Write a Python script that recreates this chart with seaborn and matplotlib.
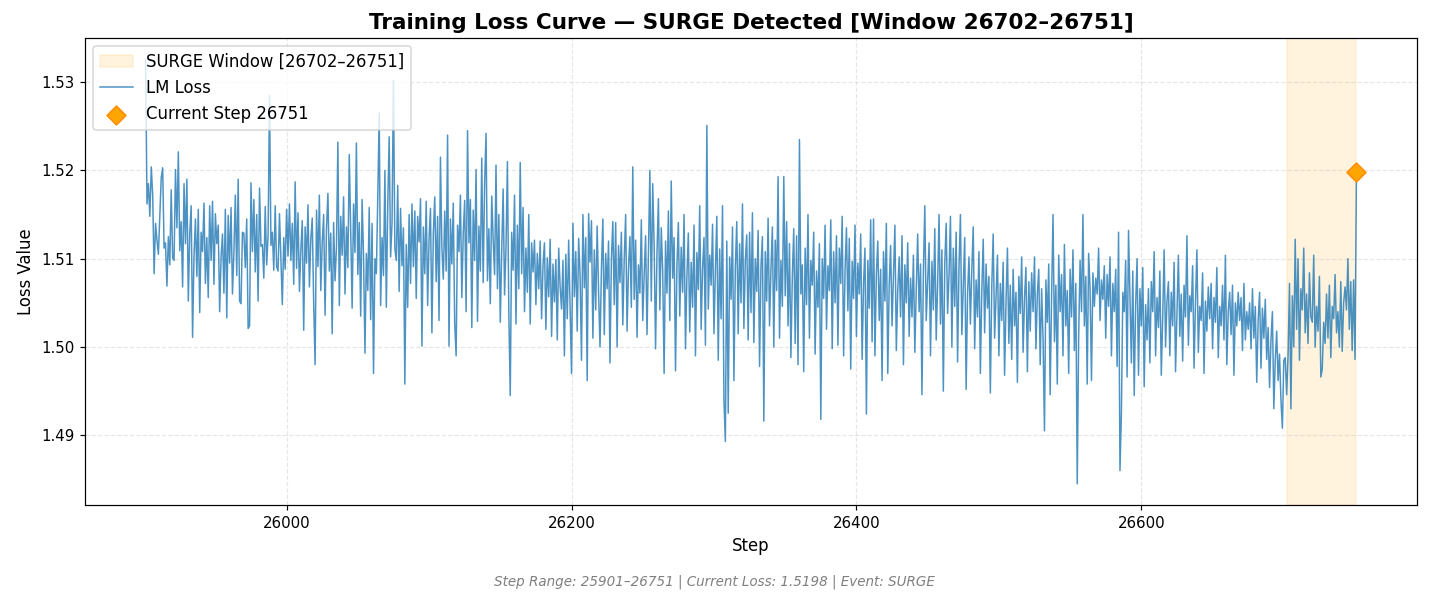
import numpy as np
import pandas as pd
import matplotlib
matplotlib.use("Agg")
import matplotlib.pyplot as plt
import seaborn as sns

# LM loss per step (last value is the current step)
loss = [
    1.5326, 1.5162, 1.5185, 1.5148, 1.5204, 1.5172, 1.5083, 1.5140, 1.5121, 1.5105, 1.5148, 1.5192, 1.5203, 1.5112, 1.5118, 1.5069, 1.5125, 1.5093, 1.5178, 1.5101, 1.5098, 1.5201, 1.5135, 1.5221, 1.5109,
    1.5142, 1.5068, 1.5185, 1.5117, 1.5190, 1.5052, 1.5128, 1.5160, 1.5011, 1.5103, 1.5145, 1.5080, 1.5156, 1.5039, 1.5130, 1.5108, 1.5163, 1.5072, 1.5124, 1.5056, 1.5160, 1.5098, 1.5165, 1.5071, 1.5151,
    1.5117, 1.5138, 1.5040, 1.5102, 1.5128, 1.5061, 1.5156, 1.5033, 1.5149, 1.5095, 1.5158, 1.5060, 1.5107, 1.5172, 1.5081, 1.5190, 1.5052, 1.5049, 1.5130, 1.5129, 1.5090, 1.5145, 1.5021, 1.5024, 1.5186,
    1.5108, 1.5167, 1.5085, 1.5150, 1.5052, 1.5180, 1.5114, 1.5116, 1.5078, 1.5159, 1.5093, 1.5126, 1.5285, 1.5115, 1.5130, 1.5087, 1.5160, 1.5091, 1.5086, 1.5151, 1.5099, 1.5048, 1.5124, 1.5088, 1.5156,
    1.5103, 1.5162, 1.5098, 1.5140, 1.5071, 1.5187, 1.5089, 1.5152, 1.5063, 1.5110, 1.5143, 1.5019, 1.5136, 1.5095, 1.5161, 1.5068, 1.5122, 1.5146, 1.5050, 1.4980, 1.5155, 1.5091, 1.5172, 1.5064, 1.5118,
    1.5150, 1.5036, 1.5134, 1.5174, 1.5086, 1.5129, 1.5015, 1.5141, 1.5075, 1.5113, 1.5232, 1.5047, 1.5148, 1.5104, 1.5170, 1.5060, 1.5136, 1.5090, 1.5218, 1.5128, 1.5044, 1.5162, 1.5107, 1.5231, 1.5082,
    1.5141, 1.5035, 1.5167, 1.5104, 1.4993, 1.5106, 1.5064, 1.5158, 1.5031, 1.5140, 1.4970, 1.5100, 1.5083, 1.5170, 1.5265, 1.5047, 1.5124, 1.5081, 1.5200, 1.5045, 1.5160, 1.5238, 1.5102, 1.5140, 1.5302,
    1.5111, 1.5098, 1.5183, 1.5063, 1.5157, 1.5092, 1.5135, 1.4958, 1.5116, 1.5045, 1.5150, 1.5072, 1.5162, 1.5091, 1.5154, 1.5055, 1.5148, 1.5119, 1.5168, 1.5001, 1.5136, 1.5083, 1.5165, 1.5047, 1.5123,
    1.5157, 1.5016, 1.5129, 1.5170, 1.5074, 1.5148, 1.5030, 1.5215, 1.5112, 1.5077, 1.5154, 1.5086, 1.5240, 1.5001, 1.5145, 1.5094, 1.5163, 1.5027, 1.4990, 1.5138, 1.5108, 1.5172, 1.5056, 1.5129, 1.5166,
    1.5040, 1.5245, 1.5118, 1.5167, 1.5022, 1.5155, 1.5098, 1.5201, 1.5029, 1.5137, 1.5086, 1.5214, 1.5073, 1.5185, 1.5242, 1.5075, 1.5134, 1.5049, 1.5171, 1.5122, 1.5082, 1.5206, 1.5066, 1.5150, 1.5028,
    1.5108, 1.5179, 1.5059, 1.5112, 1.5210, 1.5038, 1.4945, 1.5130, 1.5087, 1.5172, 1.5026, 1.5138, 1.5066, 1.5209, 1.5083, 1.5158, 1.5040, 1.5112, 1.5062, 1.5150, 1.5026, 1.5118, 1.5085, 1.5121, 1.5048,
    1.5106, 1.5066, 1.5120, 1.5032, 1.5093, 1.5118, 1.5020, 1.5101, 1.5057, 1.5122, 1.5012, 1.5094, 1.5051, 1.5099, 1.5008, 1.5112, 1.5068, 1.5043, 1.5098, 1.4990, 1.5105, 1.5032, 1.5121, 1.5047, 1.4970,
    1.5140, 1.5057, 1.5108, 1.5018, 1.5123, 1.5082, 1.4985, 1.5150, 1.5067, 1.5124, 1.4962, 1.5151, 1.5096, 1.5143, 1.5010, 1.5110, 1.5042, 1.5137, 1.5062, 1.5000, 1.5088, 1.5145, 1.5014, 1.5106, 1.5066,
    1.5120, 1.4982, 1.5100, 1.5142, 1.5048, 1.5141, 1.5000, 1.5115, 1.5073, 1.5130, 1.5025, 1.5099, 1.5150, 1.5018, 1.5089, 1.5125, 1.5045, 1.5204, 1.5054, 1.5121, 1.5011, 1.5093, 1.5061, 1.5144, 1.5030,
    1.5082, 1.5126, 1.5014, 1.5104, 1.5200, 1.5052, 1.5185, 1.5115, 1.4998, 1.5107, 1.5168, 1.5042, 1.5135, 1.5086, 1.4970, 1.5120, 1.5061, 1.5154, 1.5030, 1.5188, 1.5078, 1.5124, 1.4973, 1.5092, 1.5141,
    1.5035, 1.5113, 1.5062, 1.5150, 1.4998, 1.5080, 1.5129, 1.5017, 1.5096, 1.5045, 1.5138, 1.4990, 1.5107, 1.5065, 1.5160, 1.5020, 1.5089, 1.5124, 1.5002, 1.5251, 1.5043, 1.5104, 1.5070, 1.5139, 1.5015,
    1.5088, 1.5148, 1.4985, 1.5111, 1.5032, 1.5160, 1.4940, 1.4893, 1.5120, 1.4925, 1.5102, 1.5054, 1.5136, 1.4962, 1.5090, 1.5142, 1.5015, 1.5117, 1.5050, 1.5162, 1.5021, 1.5098, 1.5127, 1.5008, 1.5130,
    1.5039, 1.5152, 1.5005, 1.5100, 1.5063, 1.5132, 1.4978, 1.5091, 1.5125, 1.4916, 1.5108, 1.5052, 1.5146, 1.5024, 1.5088, 1.5136, 1.5000, 1.5121, 1.5064, 1.5193, 1.5010, 1.5098, 1.5046, 1.5193, 1.5058,
    1.5142, 1.5024, 1.5117, 1.4988, 1.5080, 1.5134, 1.5004, 1.5126, 1.4980, 1.5235, 1.5060, 1.5093, 1.4972, 1.5112, 1.5048, 1.5150, 1.5010, 1.5098, 1.5070, 1.5130, 1.4992, 1.5086, 1.5045, 1.5117, 1.4918,
    1.5100, 1.5055, 1.5138, 1.5020, 1.5092, 1.5064, 1.5144, 1.4998, 1.5108, 1.5050, 1.5126, 1.5002, 1.5112, 1.5072, 1.5148, 1.4990, 1.5086, 1.5135, 1.5041, 1.5123, 1.4975, 1.5097, 1.5055, 1.5138, 1.5012,
    1.5095, 1.5060, 1.5128, 1.4986, 1.5072, 1.5112, 1.4924, 1.5098, 1.5044, 1.5144, 1.5006, 1.5145, 1.4990, 1.5083, 1.5120, 1.5030, 1.5088, 1.4962, 1.5108, 1.5052, 1.5140, 1.4970, 1.5070, 1.5115, 1.5024,
    1.5082, 1.5138, 1.4996, 1.5064, 1.5102, 1.5034, 1.5126, 1.4980, 1.5093, 1.5050, 1.5118, 1.5012, 1.5078, 1.5034, 1.5104, 1.4994, 1.5066, 1.5128, 1.5040, 1.5094, 1.4946, 1.5085, 1.5160, 1.5030, 1.5075,
    1.5118, 1.4990, 1.5097, 1.5042, 1.5134, 1.5008, 1.5072, 1.5150, 1.5026, 1.5110, 1.4950, 1.5094, 1.5140, 1.5038, 1.5082, 1.5148, 1.5000, 1.5112, 1.5046, 1.5130, 1.4983, 1.5090, 1.5150, 1.5014, 1.5070,
    1.5124, 1.4952, 1.5060, 1.5102, 1.5026, 1.5088, 1.5136, 1.4998, 1.5076, 1.5034, 1.5108, 1.4970, 1.5062, 1.5122, 1.5016, 1.5094, 1.5044, 1.5080, 1.4948, 1.5068, 1.5128, 1.5010, 1.5058, 1.5104, 1.4990,
    1.5072, 1.5030, 1.5096, 1.4968, 1.5050, 1.5112, 1.5004, 1.5070, 1.4986, 1.5088, 1.5024, 1.5062, 1.4960, 1.5080, 1.5038, 1.5102, 1.4994, 1.5056, 1.5090, 1.4972, 1.5074, 1.5018, 1.5084, 1.5040, 1.5102,
    1.4998, 1.5060, 1.5088, 1.4980, 1.5066, 1.5010, 1.4905, 1.5076, 1.5028, 1.5094, 1.4946, 1.5058, 1.5150, 1.5006, 1.5070, 1.4958, 1.5104, 1.5040, 1.5082, 1.4990, 1.5116, 1.5024, 1.5064, 1.4970, 1.5088,
    1.5034, 1.5110, 1.4996, 1.5072, 1.4845, 1.5012, 1.5098, 1.5040, 1.5150, 1.5024, 1.5080, 1.4958, 1.5106, 1.5066, 1.4962, 1.5084, 1.5046, 1.5078, 1.5060, 1.5112, 1.5030, 1.5076, 1.5054, 1.5092, 1.5010,
    1.5082, 1.5046, 1.5102, 1.4990, 1.5072, 1.5040, 1.5088, 1.4978, 1.5130, 1.4860, 1.4925, 1.5062, 1.5040, 1.5098, 1.4966, 1.5132, 1.5054, 1.4982, 1.5086, 1.4945, 1.5048, 1.5100, 1.4968, 1.5066, 1.5024,
    1.5090, 1.4955, 1.5048, 1.5008, 1.5066, 1.4982, 1.5074, 1.5040, 1.5108, 1.4990, 1.5056, 1.5022, 1.5086, 1.4968, 1.5034, 1.5110, 1.5000, 1.5052, 1.5074, 1.4990, 1.5062, 1.5024, 1.5096, 1.4972, 1.5040,
    1.5104, 1.5012, 1.5060, 1.4984, 1.5070, 1.5034, 1.5126, 1.5002, 1.5058, 1.5040, 1.5092, 1.4976, 1.5050, 1.5110, 1.4994, 1.5046, 1.5030, 1.5084, 1.4970, 1.5052, 1.5018, 1.5068, 1.5032, 1.5072, 1.4998,
    1.5056, 1.5028, 1.5090, 1.4988, 1.5046, 1.5024, 1.5070, 1.5008, 1.5104, 1.4980, 1.5040, 1.5062, 1.5014, 1.5070, 1.4968, 1.5050, 1.5024, 1.5062, 1.5030, 1.5056, 1.4996, 1.5072, 1.5008, 1.5040, 1.5020,
    1.5050, 1.4998, 1.5066, 1.5010, 1.5046, 1.4960, 1.5030, 1.5062, 1.4976, 1.5044, 1.5010, 1.5054, 1.4986, 1.5022, 1.4954, 1.5008, 1.5040, 1.4930, 1.4985, 1.5018, 1.4962, 1.4992, 1.4940, 1.4908, 1.4985,
    1.4988, 1.4946, 1.4990, 1.5072, 1.4930, 1.5058, 1.5000, 1.5122, 1.5020, 1.5100, 1.4985, 1.5066, 1.5042, 1.5112, 1.5016, 1.5060, 1.5004, 1.5084, 1.5034, 1.5028, 1.5104, 1.5000, 1.5046, 1.5018, 1.5080,
    1.4966, 1.4975, 1.5028, 1.5004, 1.5060, 1.5010, 1.5070, 1.4988, 1.5046, 1.5032, 1.5082, 1.5016, 1.5040, 1.5000, 1.5074, 1.4995, 1.5050, 1.5068, 1.5042, 1.5100, 1.5020, 1.5074, 1.4996, 1.5076, 1.4986,
    1.5198,
]

current_step = 26751
window_start = 26702
window_end = 26751
event = "SURGE"

steps = np.arange(current_step - len(loss) + 1, current_step + 1)
df = pd.DataFrame({"step": steps, "loss": loss})
current_loss = df["loss"].iloc[-1]

dpi = 108
fig, ax = plt.subplots(figsize=(1429 / dpi, 602 / dpi), dpi=dpi)
fig.subplots_adjust(left=0.0595, right=0.9916, top=0.937, bottom=0.161)

ax.axvspan(window_start, window_end, color="orange", alpha=0.13, zorder=0,
           label=f"{event} Window [{window_start}\u2013{window_end}]")
sns.lineplot(data=df, x="step", y="loss", ax=ax, color="#1f77b4", alpha=0.8,
             linewidth=1.0, label="LM Loss", zorder=2)
ax.scatter([current_step], [current_loss], marker="D", s=80, color="orange",
           edgecolor="darkorange", linewidth=1, zorder=5,
           label=f"Current Step {current_step}")

ax.set_title(f"Training Loss Curve \u2014 {event} Detected [Window {window_start}\u2013{window_end}]",
             fontsize=14.3, fontweight="bold")
ax.set_xlabel("Step", fontsize=11)
ax.set_ylabel("Loss Value", fontsize=11)
ax.tick_params(labelsize=10)
ax.grid(True, linestyle="--", alpha=0.3)
ax.legend(loc="upper left", fontsize=11)

fig.text(0.5, 0.033,
         f"Step Range: {steps[0]}\u2013{current_step} | Current Loss: {current_loss:.4f} | Event: {event}",
         ha="center", va="center", fontsize=9, style="italic", color="gray")

fig.savefig("out.png", dpi=dpi)
